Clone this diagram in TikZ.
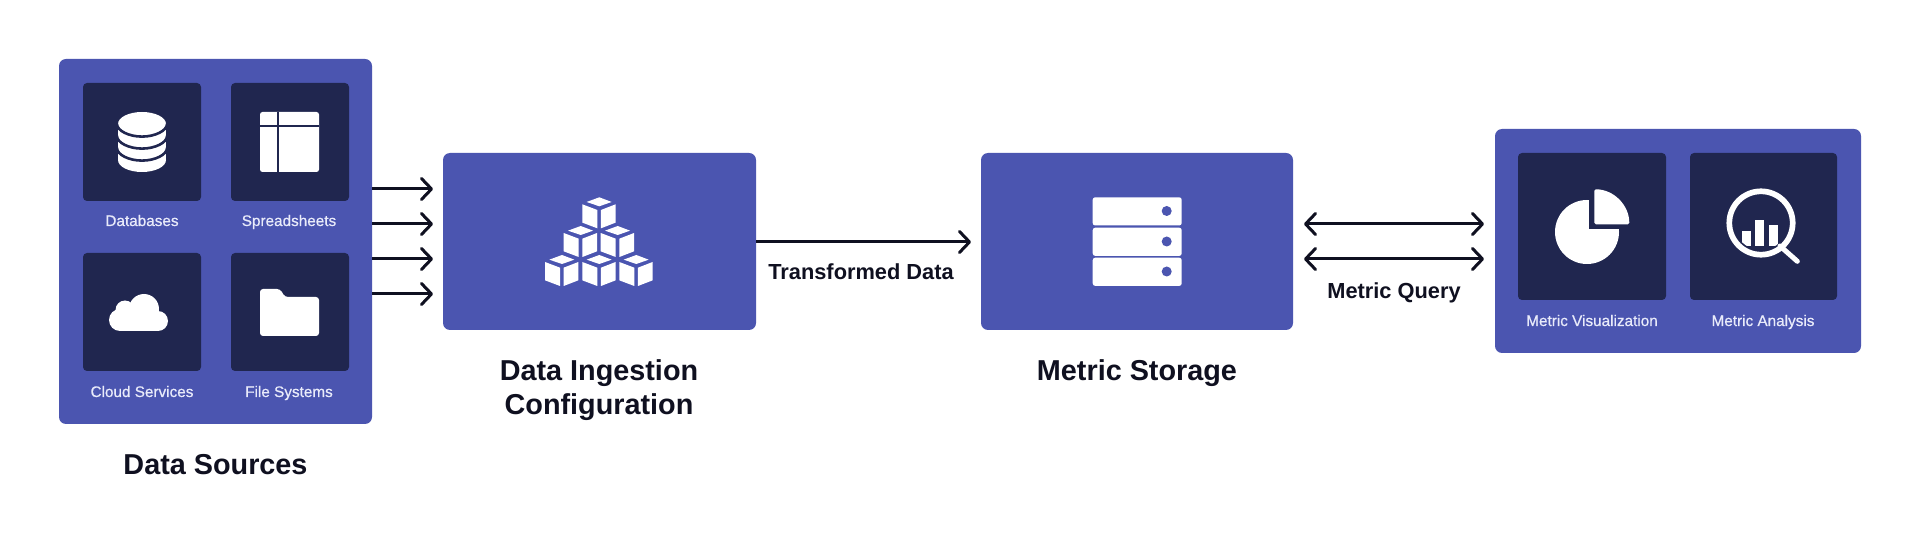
\documentclass[tikz,border=0pt]{standalone}
\usepackage{fontspec}
\setmainfont{Liberation Sans}
\newfontfamily\smallfont[FakeBold=0.6]{Liberation Sans}
\usetikzlibrary{arrows.meta}
\definecolor{panelblue}{HTML}{4B55B0}
\definecolor{tiledark}{HTML}{20264F}
\definecolor{inkdark}{HTML}{0F1020}
\definecolor{paleink}{HTML}{E9EBFA}
\tikzset{
  panel/.style={fill=panelblue,rounded corners=7pt,inner sep=0pt,outer sep=0pt},
  tile/.style={fill=tiledark,rounded corners=4pt,inner sep=0pt,outer sep=0pt},
  ticon/.style={fill=white,draw=none},
  sublabel/.style={text=paleink,anchor=base,inner sep=0pt,font=\smallfont\fontsize{15.3}{18}\selectfont},
  title/.style={text=inkdark,anchor=base,inner sep=0pt,align=center,font=\bfseries\fontsize{28.8}{34.3}\selectfont},
  edgelabel/.style={text=inkdark,anchor=base,inner sep=0pt,font=\bfseries\fontsize{21.8}{26}\selectfont},
  flow/.style={draw=inkdark,line width=3pt,>={Straight Barb[round,length=10pt,width=21pt]},->},
  biflow/.style={draw=inkdark,line width=3pt,>={Straight Barb[round,length=10pt,width=21pt]},<->},
}
\newcommand{\isocube}[2]{%
  \begin{scope}[shift={(#1,#2)},scale=0.3333]
    \fill[white] (0,0)--(37,14)--(0,27)--(-38,14)--cycle;
    \fill[white] (-51,21)--(-6,38)--(-6,93)--(-51,76)--cycle;
    \fill[white] (5,38)--(49,21)--(49,76)--(5,93)--cycle;
  \end{scope}}
\begin{document}
\begin{tikzpicture}[x=1pt,y=-1pt]
\useasboundingbox (0,0) rectangle (1920,534);
\fill[white] (0,0) rectangle (1920,534);
% panels
\node[panel,minimum width=313pt,minimum height=365pt] (src) at (215.5,241.5) {};
\node[panel,minimum width=313pt,minimum height=177pt] (ing) at (599.5,241.5) {};
\node[panel,minimum width=312pt,minimum height=177pt] (sto) at (1137,241.5) {};
\node[panel,minimum width=366pt,minimum height=224pt] (viz) at (1678,241) {};
% tiles
\node[tile,minimum width=118pt,minimum height=118pt] (tdb) at (142,142) {};
\node[tile,minimum width=118pt,minimum height=118pt] (tsh) at (290,142) {};
\node[tile,minimum width=118pt,minimum height=118pt] (tcl) at (142,312) {};
\node[tile,minimum width=118pt,minimum height=118pt] (tfs) at (290,312) {};
\node[tile,minimum width=148pt,minimum height=147pt] (tmv) at (1592,226.5) {};
\node[tile,minimum width=147pt,minimum height=147pt] (tma) at (1763.5,226.5) {};
% database icon
\fill[white] (118,124) rectangle (166,160);
\fill[white] (142,160) ellipse [x radius=24,y radius=12];
\fill[white] (142,124) ellipse [x radius=24,y radius=12];
\foreach \c in {148,136,124}{
  \draw[tiledark,line width=2.6pt] (117,\c) .. controls (117,\c+6.6) and (128.7,\c+12.6) .. (142,\c+12.6) .. controls (155.3,\c+12.6) and (167,\c+6.6) .. (167,\c);
}
% spreadsheet icon
\fill[ticon,rounded corners=2.5pt] (260,112) rectangle (319,172);
\draw[tiledark,line width=1.6pt] (278,112) -- (278,172);
\draw[tiledark,line width=1.6pt] (260,126) -- (319,126);
% cloud icon
\fill[white] (144,309) circle [radius=15];
\fill[white] (125,310) circle [radius=9.5];
\fill[white] (120,320) circle [radius=11];
\fill[white] (158,321) circle [radius=10];
\fill[white] (120,312) rectangle (158,331);
% folder icon
\fill[ticon,rounded corners=3pt] (260,289) -- (280,289) -- (285,297) -- (319,297) -- (319,336) -- (260,336) -- cycle;
% cubes
\isocube{599.3}{197.3}
\isocube{580.7}{226}
\isocube{617.7}{226}
\isocube{562}{255}
\isocube{599.3}{255}
\isocube{636.3}{255}
% server icon
\foreach \t/\d in {197.3/211,227.7/241.5,257.7/271.5}{
  \fill[ticon,rounded corners=2.5pt] (1092.7,\t) rectangle (1181.7,\t+28.2);
  \fill[panelblue] (1166.7,\d) circle [radius=5];
}
% pie icon
\fill[white] (1587,232) circle [radius=32];
\fill[tiledark] (1589.3,195) rectangle (1625,229.3);
\fill[white,rounded corners=1.5pt] (1594.3,224.3) -- (1594.3,189.3) .. controls (1613.6,189.3) and (1629.3,205) .. (1629.3,224.3) -- cycle;
% magnifier icon
\draw[white,line width=5.7pt] (1761,223) circle [radius=31.7];
\draw[white,line width=5pt,line cap=round] (1780,246) -- (1797.3,261.3);
\begin{scope}
  \clip (1761,223) circle [radius=27];
  \fill[white] (1742,231) rectangle (1750.7,246);
  \fill[white] (1755.3,220.3) rectangle (1764.3,246);
  \fill[white] (1769.3,225.3) rectangle (1778,246);
\end{scope}
% labels
\node[sublabel] (ldb) at (142,226) {Databases};
\node[sublabel] (lsh) at (289,226) {Spreadsheets};
\node[sublabel] (lcl) at (142,397) {Cloud Services};
\node[sublabel] (lfs) at (289,397) {File Systems};
\node[sublabel] (lmv) at (1592,326) {Metric Visualization};
\node[sublabel] (lma) at (1763,326) {Metric Analysis};
\node[title] (tsrc) at (215.5,475) {Data Sources};
\node[title] (ting) at (599,415) {Data Ingestion\\Configuration};
\node[title] (tsto) at (1137,381) {Metric Storage};
\node[edgelabel] (ltd) at (861,280) {Transformed Data};
\node[edgelabel] (lmq) at (1394,298.5) {Metric Query};
% connectors
\coordinate (r1) at (0,189);
\coordinate (r2) at (0,224);
\coordinate (r3) at (0,259);
\coordinate (r4) at (0,294);
\coordinate (r5) at (0,242);
\coordinate (r6) at (0,224);
\coordinate (r7) at (0,259);
\foreach \r in {r1,r2,r3,r4}{
  \draw[flow,shorten >=10pt] (src.east |- \r) -- (ing.west |- \r);
}
\draw[flow,shorten >=10pt] (ing.east |- r5) -- (sto.west |- r5);
\draw[biflow,shorten <=11pt,shorten >=11pt] (sto.east |- r6) -- (viz.west |- r6);
\draw[biflow,shorten <=11pt,shorten >=11pt] (sto.east |- r7) -- (viz.west |- r7);
\end{tikzpicture}
\end{document}
